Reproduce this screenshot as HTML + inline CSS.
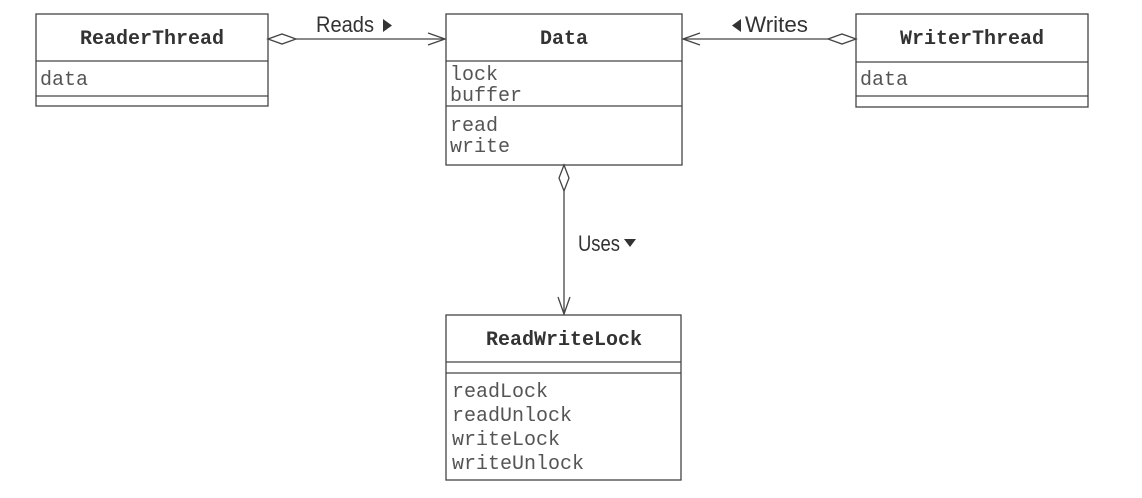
<!DOCTYPE html>
<html><head><meta charset="utf-8"><style>
html,body{margin:0;padding:0;background:#fff;width:1142px;height:498px;overflow:hidden}
</style></head><body>
<svg width="1142" height="498" xmlns="http://www.w3.org/2000/svg">
<g fill="none" stroke="#444" stroke-width="1.3">
<rect x="36" y="14" width="232" height="92"/>
<line x1="36" y1="61" x2="268" y2="61"/><line x1="36" y1="96" x2="268" y2="96"/>
<rect x="446" y="14" width="236" height="151"/>
<line x1="446" y1="61" x2="682" y2="61"/><line x1="446" y1="106" x2="682" y2="106"/>
<rect x="856" y="14" width="232" height="93"/>
<line x1="856" y1="62" x2="1088" y2="62"/><line x1="856" y1="96" x2="1088" y2="96"/>
<rect x="446" y="315" width="235" height="165"/>
<line x1="446" y1="362" x2="681" y2="362"/><line x1="446" y1="373" x2="681" y2="373"/>
<path d="M268 39 L282 34 L296 39 L282 44 Z"/>
<line x1="296" y1="39" x2="445" y2="39"/>
<path d="M428 33 L445 39 L428 45"/>
<path d="M856 39 L842 34 L828 39 L842 44 Z"/>
<line x1="828" y1="39" x2="683" y2="39"/>
<path d="M700 33 L683 39 L700 45"/>
<path d="M564 165 L569 178 L564 191 L559 178 Z"/>
<line x1="564" y1="191" x2="564" y2="314"/>
<path d="M558 297 L564 314 L570 297"/>
</g>
<g fill="#333">
<path d="M383 19 L392 25.5 L383 32 Z"/>
<path d="M741 19 L732 25.5 L741 32 Z"/>
<path d="M624 239 L636 239 L630 247 Z"/>
</g>
<g font-family="'Liberation Sans',sans-serif" font-size="22" fill="#333">
<text x="316" y="32" textLength="58" lengthAdjust="spacingAndGlyphs">Reads</text>
<text x="745" y="32" textLength="63" lengthAdjust="spacingAndGlyphs">Writes</text>
<text x="578" y="251" textLength="42" lengthAdjust="spacingAndGlyphs">Uses</text>
</g>
<g font-family="'Liberation Mono',monospace" font-size="20" font-weight="bold" fill="#333" text-anchor="middle">
<text x="152" y="44">ReaderThread</text>
<text x="564" y="44">Data</text>
<text x="972" y="44">WriterThread</text>
<text x="564" y="345">ReadWriteLock</text>
</g>
<g font-family="'Liberation Mono',monospace" font-size="20" fill="#555">
<text x="40" y="85">data</text>
<text x="860" y="85">data</text>
<text x="450" y="80">lock</text>
<text x="450" y="101">buffer</text>
<text x="450" y="131">read</text>
<text x="450" y="152">write</text>
<text x="452" y="397">readLock</text>
<text x="452" y="421">readUnlock</text>
<text x="452" y="445">writeLock</text>
<text x="452" y="469">writeUnlock</text>
</g>
</svg>
</body></html>
